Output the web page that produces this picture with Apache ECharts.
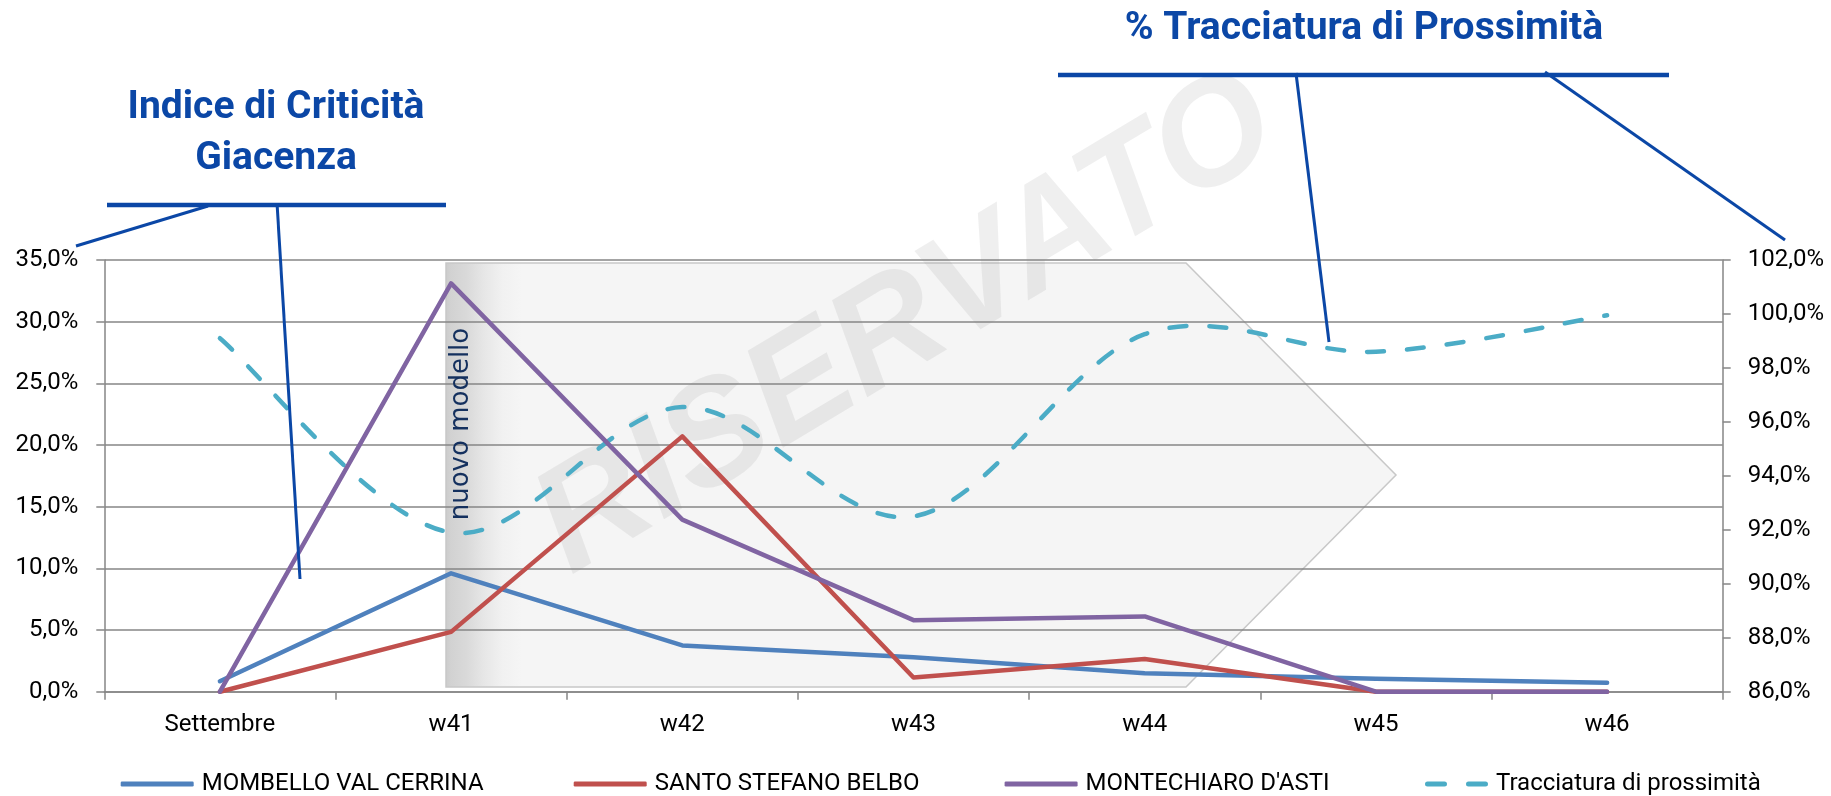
<!DOCTYPE html>
<html><head><meta charset="utf-8">
<script src="https://cdn.jsdelivr.net/npm/echarts@6/dist/echarts.min.js"></script>
<style>html,body{margin:0;padding:0;background:#fff}#c{width:1831px;height:796px}</style>
</head><body><div id="c"></div>
<script>
// ---- data ----
const categories = ['Settembre', 'w41', 'w42', 'w43', 'w44', 'w45', 'w46'];
const mombello = [0.85, 9.6, 3.75, 2.8, 1.5, 1.05, 0.73];
const santoStefano = [0, 4.85, 20.7, 1.15, 2.65, 0, 0];
const montechiaro = [0, 33.1, 13.95, 5.8, 6.1, 0, 0];
const tracciatura = [99.1, 91.9, 96.55, 92.5, 99.25, 98.6, 99.95];
const seriesNames = ['MOMBELLO VAL CERRINA', 'SANTO STEFANO BELBO', "MONTECHIARO D'ASTI", 'Tracciatura di prossimità'];
const leftAxisRange = [0, 35, 5];
const rightAxisRange = [86, 102, 2];
const titleLeft = ['Indice di Criticità', 'Giacenza'];
const titleRight = '% Tracciatura di Prossimità';
const bandLabel = 'nuovo modello';
const watermark = 'RISERVATO';

const colors = ['#4F81BD', '#C0504D', '#8064A2', '#4BACC6'];
const navy = '#0b47a6';
const gridColor = '#868686';
const FONT = 'Roboto';
const fmt = v => v.toFixed(1).replace('.', ',') + '%';

const chart = echarts.init(document.getElementById('c'));

const legendPos = [120.7, 573.7, 1004.6, 1425];
const legends = seriesNames.map((n, i) => ({
  data: [n],
  left: legendPos[i],
  top: 772,
  padding: 0,
  itemWidth: i === 3 ? 63 : 73,
  itemHeight: 5,
  icon: i === 3 ? 'path://M2.5,0H19.5A2.5,2.5 0 0 1 19.5,5H2.5A2.5,2.5 0 0 1 2.5,0Z M43.5,0H60.5A2.5,2.5 0 0 1 60.5,5H43.5A2.5,2.5 0 0 1 43.5,0Z' : 'roundRect',
  textStyle: { fontFamily: FONT, fontSize: 24, color: '#000', padding: [0, 0, 0, 3] }
}));

const lineSeries = (name, data, color) => ({
  name, type: 'line', data, symbol: 'none', z: 5,
  lineStyle: { color, width: 4.5, cap: 'round', join: 'round' },
  itemStyle: { color },
  emphasis: { disabled: true }
});

// Excel-style smoothed line (Catmull-Rom / Bezier, 1/6 tension) drawn via the axes' coordinates
function renderSmooth(params, api) {
  if (params.dataIndex !== 0) return null;
  const pts = tracciatura.map((v, i) => api.coord([i, v]));
  const n = pts.length;
  let d = 'M' + pts[0][0] + ',' + pts[0][1];
  for (let i = 0; i < n - 1; i++) {
    const p0 = pts[Math.max(0, i - 1)], p1 = pts[i], p2 = pts[i + 1], p3 = pts[Math.min(n - 1, i + 2)];
    const c1x = p1[0] + (p2[0] - p0[0]) / 6, c1y = p1[1] + (p2[1] - p0[1]) / 6;
    const c2x = p2[0] - (p3[0] - p1[0]) / 6, c2y = p2[1] - (p3[1] - p1[1]) / 6;
    d += ' C' + c1x + ',' + c1y + ' ' + c2x + ',' + c2y + ' ' + p2[0] + ',' + p2[1];
  }
  return {
    type: 'path', z2: 1,
    shape: { pathData: d },
    style: { fill: 'none', stroke: colors[3], lineWidth: 4.5, lineDash: [17, 23], lineCap: 'round', lineJoin: 'round' }
  };
}

const option = {
  animation: false,
  backgroundColor: '#fff',
  grid: { left: 104.3, right: 108.3, top: 260, bottom: 104.3, containLabel: false },
  legend: legends,
  xAxis: {
    type: 'category', data: categories, boundaryGap: true, z: 3,
    axisLine: { show: true, lineStyle: { color: gridColor, width: 1.5 } },
    axisTick: { show: true, length: 8, lineStyle: { color: gridColor, width: 1.5 } },
    axisLabel: { interval: 0, margin: 21, fontFamily: FONT, fontSize: 24, color: '#000' },
    splitLine: { show: false }
  },
  yAxis: [
    {
      type: 'value', min: leftAxisRange[0], max: leftAxisRange[1], interval: leftAxisRange[2], z: 3,
      axisLine: { show: true, lineStyle: { color: gridColor, width: 1.5 } },
      axisTick: { show: true, length: 8, lineStyle: { color: gridColor, width: 1.5 } },
      axisLabel: { formatter: fmt, margin: 26, fontFamily: FONT, fontSize: 24, color: '#000' },
      splitLine: { show: true, lineStyle: { color: gridColor, width: 1.5 } }
    },
    {
      type: 'value', min: rightAxisRange[0], max: rightAxisRange[1], interval: rightAxisRange[2], z: 3,
      position: 'right',
      axisLine: { show: true, lineStyle: { color: gridColor, width: 1.5 } },
      axisTick: { show: true, length: 8, lineStyle: { color: gridColor, width: 1.5 } },
      axisLabel: { formatter: fmt, margin: 25, fontFamily: FONT, fontSize: 24, color: '#000' },
      splitLine: { show: false }
    }
  ],
  series: [
    lineSeries(seriesNames[0], mombello, colors[0]),
    lineSeries(seriesNames[1], santoStefano, colors[1]),
    lineSeries(seriesNames[2], montechiaro, colors[2]),
    {
      name: seriesNames[3], type: 'custom', yAxisIndex: 1, z: 5,
      data: tracciatura.map((v, i) => [i, v]),
      encode: { x: 0, y: 1 },
      itemStyle: { color: colors[3] },
      renderItem: renderSmooth,
      silent: true
    }
  ],
  graphic: [
    // shaded "nuovo modello" arrow band
    {
      type: 'polygon', z: 1, silent: true,
      shape: { points: [[446, 263], [1186, 263], [1396, 475], [1186, 687], [446, 687]] },
      style: {
        fill: { type: 'linear', x: 0, y: 0, x2: 1, y2: 0, colorStops: [
          { offset: 0, color: '#cbcbcb' }, { offset: 0.006, color: '#d2d2d2' },
          { offset: 0.022, color: '#d9d9d9' }, { offset: 0.04, color: '#e6e6e6' },
          { offset: 0.06, color: '#f1f1f1' }, { offset: 0.08, color: '#f5f5f5' },
          { offset: 1, color: '#f5f5f5' }] },
        stroke: '#c8c8c8', lineWidth: 1.5
      }
    },
    // watermark
    {
      type: 'text', z: 2, silent: true, x: 907, y: 326, rotation: 31 * Math.PI / 180,
      style: { text: watermark, font: 'italic bold 147px "Liberation Sans"', fill: 'rgba(150,150,150,0.15)', align: 'center', verticalAlign: 'middle' }
    },
    // band label
    {
      type: 'text', z: 12, silent: true, x: 461, y: 424, rotation: Math.PI / 2,
      style: { text: bandLabel, font: '26px "DejaVu Sans"', fill: '#14305e', align: 'center', verticalAlign: 'middle' }
    },
    // titles
    {
      type: 'text', z: 12, silent: true, x: 276, y: 108,
      style: { text: titleLeft[0], font: 'bold 39px Roboto', fill: navy, align: 'center', verticalAlign: 'middle' }
    },
    {
      type: 'text', z: 12, silent: true, x: 276, y: 159,
      style: { text: titleLeft[1], font: 'bold 39px Roboto', fill: navy, align: 'center', verticalAlign: 'middle' }
    },
    {
      type: 'text', z: 12, silent: true, x: 1364, y: 29,
      style: { text: titleRight, font: 'bold 39px Roboto', fill: navy, align: 'center', verticalAlign: 'middle' }
    },
    // callout lines
    { type: 'line', z: 12, silent: true, shape: { x1: 107, y1: 205, x2: 446, y2: 205 }, style: { stroke: navy, lineWidth: 4.5 } },
    { type: 'line', z: 12, silent: true, shape: { x1: 208, y1: 206, x2: 76, y2: 246 }, style: { stroke: navy, lineWidth: 3 } },
    { type: 'line', z: 12, silent: true, shape: { x1: 277, y1: 203, x2: 300, y2: 579 }, style: { stroke: navy, lineWidth: 3 } },
    { type: 'line', z: 12, silent: true, shape: { x1: 1058, y1: 75, x2: 1669, y2: 75 }, style: { stroke: navy, lineWidth: 4.5 } },
    { type: 'line', z: 12, silent: true, shape: { x1: 1296, y1: 73, x2: 1329, y2: 342 }, style: { stroke: navy, lineWidth: 3 } },
    { type: 'line', z: 12, silent: true, shape: { x1: 1545, y1: 72, x2: 1785, y2: 240 }, style: { stroke: navy, lineWidth: 3 } }
  ]
};
chart.setOption(option);
</script>
</body></html>
